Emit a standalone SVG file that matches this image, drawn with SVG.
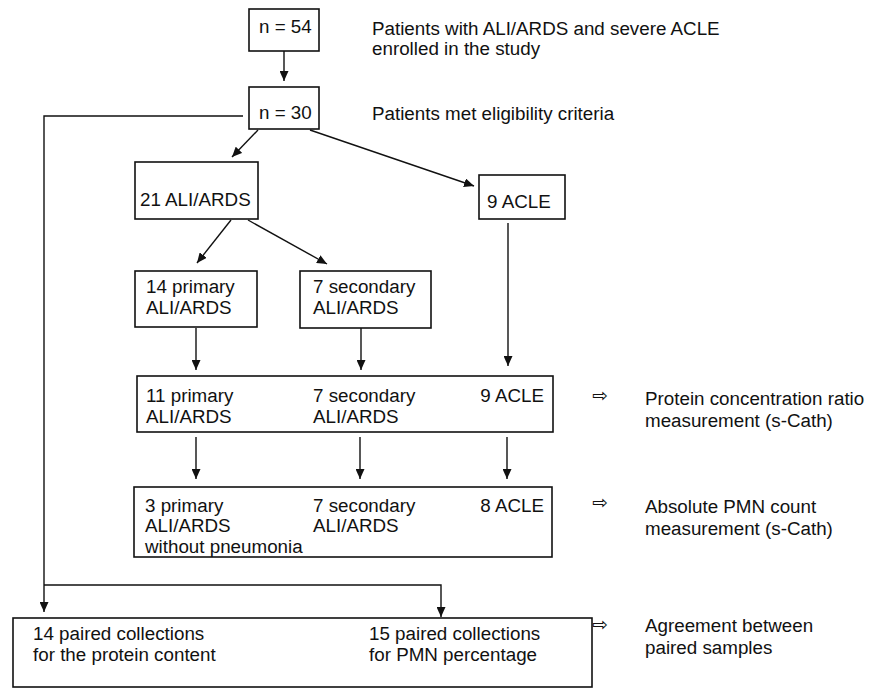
<svg xmlns="http://www.w3.org/2000/svg" width="870" height="688" viewBox="0 0 870 688">
<style>
text{font-family:"Liberation Sans",Arial,sans-serif;font-size:18.8px;fill:#111}
.box{fill:#fff;stroke:#111;stroke-width:1.6}
.c{fill:none;stroke:#111;stroke-width:1.4}
.sym{font-family:"DejaVu Sans",sans-serif;font-size:19px}
</style>
<defs>
<marker id="ah" markerWidth="10" markerHeight="9" refX="10" refY="4.5" orient="auto" markerUnits="userSpaceOnUse">
<path d="M0,0 L10,4.5 L0,9 z" fill="#111"/>
</marker>
</defs>
<rect width="870" height="688" fill="#fff"/>
<g id="connectors">
<line class="c" x1="284" y1="51" x2="284" y2="81" marker-end="url(#ah)"/>
<polyline class="c" points="243,116 44,116 44,612" marker-end="url(#ah)"/>
<polyline class="c" points="44,585 441,585 441,617" marker-end="url(#ah)"/>
<line class="c" x1="258" y1="130" x2="232" y2="157" marker-end="url(#ah)"/>
<line class="c" x1="310" y1="130" x2="474" y2="186" marker-end="url(#ah)"/>
<line class="c" x1="231" y1="220" x2="197" y2="263" marker-end="url(#ah)"/>
<line class="c" x1="248" y1="220" x2="327" y2="264" marker-end="url(#ah)"/>
<line class="c" x1="508" y1="223" x2="508" y2="366" marker-end="url(#ah)"/>
<line class="c" x1="196" y1="328" x2="196" y2="370" marker-end="url(#ah)"/>
<line class="c" x1="361" y1="328" x2="361" y2="370" marker-end="url(#ah)"/>
<line class="c" x1="196" y1="437" x2="196" y2="479" marker-end="url(#ah)"/>
<line class="c" x1="360" y1="437" x2="360" y2="479" marker-end="url(#ah)"/>
<line class="c" x1="507" y1="437" x2="507" y2="479" marker-end="url(#ah)"/>
</g>
<g id="n54">
<rect class="box" x="249" y="9" width="70" height="42"/>
<text x="259" y="33">n = 54</text>
</g>
<g id="n54-label">
<text x="372" y="35">Patients with ALI/ARDS and severe ACLE</text>
<text x="372" y="55">enrolled in the study</text>
</g>
<g id="n30">
<rect class="box" x="249" y="87" width="70" height="42"/>
<text x="259" y="119">n = 30</text>
</g>
<g id="n30-label">
<text x="372" y="120">Patients met eligibility criteria</text>
</g>
<g id="ali21">
<rect class="box" x="135" y="162" width="123" height="57"/>
<text x="140" y="206">21 ALI/ARDS</text>
</g>
<g id="acle9">
<rect class="box" x="479" y="175" width="86" height="44"/>
<text x="487" y="208">9 ACLE</text>
</g>
<g id="primary14">
<rect class="box" x="135" y="271" width="122" height="56"/>
<text x="146" y="293">14 primary</text>
<text x="146" y="314">ALI/ARDS</text>
</g>
<g id="secondary7">
<rect class="box" x="300" y="271" width="131" height="57"/>
<text x="313" y="293">7 secondary</text>
<text x="313" y="314">ALI/ARDS</text>
</g>
<g id="protein-box">
<rect class="box" x="137" y="376" width="416" height="56"/>
<text x="146" y="402">11 primary</text>
<text x="146" y="423">ALI/ARDS</text>
<text x="313" y="402">7 secondary</text>
<text x="313" y="423">ALI/ARDS</text>
<text x="544" y="402" text-anchor="end">9 ACLE</text>
</g>
<g id="protein-label">
<text class="sym" x="592" y="402">⇨</text>
<text x="645" y="405">Protein concentration ratio</text>
<text x="645" y="427">measurement (s-Cath)</text>
</g>
<g id="pmn-box">
<rect class="box" x="134" y="487" width="418" height="70"/>
<text x="145" y="512">3 primary</text>
<text x="145" y="532">ALI/ARDS</text>
<text x="145" y="553">without pneumonia</text>
<text x="313" y="512">7 secondary</text>
<text x="313" y="532">ALI/ARDS</text>
<text x="544" y="512" text-anchor="end">8 ACLE</text>
</g>
<g id="pmn-label">
<text class="sym" x="592" y="509">⇨</text>
<text x="645" y="513">Absolute PMN count</text>
<text x="645" y="535">measurement (s-Cath)</text>
</g>
<g id="paired-box">
<rect class="box" x="13" y="618" width="579" height="69"/>
<text x="33" y="640">14 paired collections</text>
<text x="33" y="661">for the protein content</text>
<text x="369" y="640">15 paired collections</text>
<text x="369" y="661">for PMN percentage</text>
</g>
<g id="paired-label">
<text class="sym" x="592" y="631">⇨</text>
<text x="645" y="632">Agreement between</text>
<text x="645" y="654">paired samples</text>
</g>
</svg>
